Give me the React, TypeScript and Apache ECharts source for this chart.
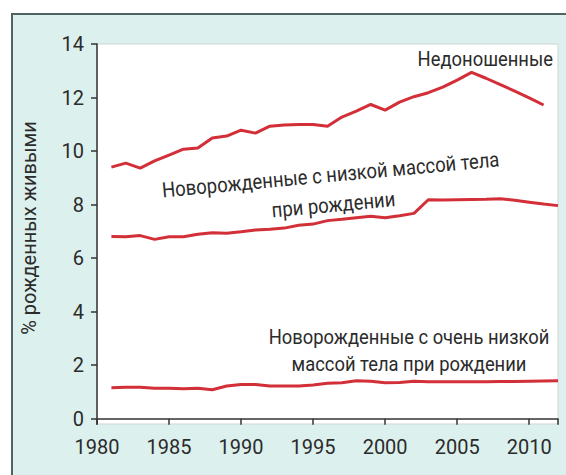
import React, { useEffect, useRef } from "react";
import * as echarts from "echarts";

const pretermYears = [1981,1982,1983,1984,1985,1986,1987,1988,1989,1990,1991,1992,1993,1994,1995,1996,1997,1998,1999,2000,2001,2002,2003,2004,2005,2006,2007,2008,2009,2010,2011];
const pretermValues = [9.40,9.55,9.36,9.63,9.85,10.07,10.11,10.49,10.56,10.78,10.67,10.93,10.97,10.99,10.99,10.93,11.27,11.49,11.74,11.53,11.83,12.03,12.18,12.39,12.65,12.94,12.72,12.48,12.24,11.99,11.72];

const lbwYears = [1981,1982,1983,1984,1985,1986,1987,1988,1989,1990,1991,1992,1993,1994,1995,1996,1997,1998,1999,2000,2001,2002,2003,2004,2005,2006,2007,2008,2009,2010,2011,2012];
const lbwValues = [6.81,6.80,6.84,6.70,6.80,6.80,6.89,6.95,6.93,6.98,7.05,7.08,7.12,7.23,7.27,7.40,7.45,7.51,7.56,7.51,7.58,7.67,8.18,8.17,8.18,8.19,8.20,8.22,8.16,8.09,8.02,7.96];

const vlbwYears = [1981,1982,1983,1984,1985,1986,1987,1988,1989,1990,1991,1992,1993,1994,1995,1996,1997,1998,1999,2000,2001,2002,2003,2004,2005,2006,2007,2008,2009,2010,2011,2012];
const vlbwValues = [1.15,1.17,1.17,1.14,1.14,1.12,1.14,1.08,1.22,1.28,1.28,1.22,1.22,1.22,1.26,1.32,1.34,1.42,1.40,1.34,1.35,1.40,1.38,1.38,1.38,1.38,1.38,1.39,1.39,1.40,1.41,1.42];

const xTicks = [1980, 1985, 1990, 1995, 2000, 2005, 2010];
const yTicks = [0, 2, 4, 6, 8, 10, 12, 14];

const labelPreterm = "Недоношенные";
const labelLbw = "Новорожденные с низкой массой тела\nпри рождении";
const labelVlbw = "Новорожденные с очень низкой\nмассой тела при рождении";
const yAxisName = "% рожденных живыми";

const FONT = "Roboto, 'Liberation Sans', sans-serif";
const TEXT = "#2b2b2b";
const RED = "#d22f38";

const pairs = (xs: number[], ys: number[]) => xs.map((x, i) => [x, ys[i]]);

export default function App() {
  const ref = useRef<HTMLDivElement>(null);
  useEffect(() => {
    if (!ref.current) return;
    const chart = echarts.init(ref.current, undefined, { renderer: "svg" });
    const lineSeries = (name: string, data: number[][]) => ({
      name,
      type: "line",
      data,
      symbol: "none",
      lineStyle: { color: RED, width: 3 },
      itemStyle: { color: RED },
    });
    chart.setOption({
      animation: false,
      grid: {
        left: 97,
        right: 8,
        top: 44,
        bottom: 51,
        show: true,
        backgroundColor: "#ffffff",
        borderColor: "#cdd5d5",
        borderWidth: 1,
      },
      xAxis: {
        type: "value",
        min: 1980,
        max: 2012,
        interval: 5,
        axisLine: { show: true, lineStyle: { color: "#333", width: 1.5 } },
        axisTick: { show: true, length: 6, lineStyle: { color: "#333", width: 1.5 }, customValues: [...xTicks, 2012] },
        axisLabel: { customValues: xTicks, formatter: (v: number) => String(v), color: TEXT, fontFamily: FONT, fontSize: 20, margin: 13 },
        splitLine: { show: false },
      },
      yAxis: {
        type: "value",
        min: -0.2,
        max: 14,
        axisLine: { show: true, lineStyle: { color: "#333", width: 1.5 } },
        axisTick: { show: true, length: 6, lineStyle: { color: "#333", width: 1.5 }, customValues: yTicks },
        axisLabel: { customValues: yTicks, color: TEXT, fontFamily: FONT, fontSize: 20, margin: 13 },
        splitLine: { show: false },
        name: yAxisName,
        nameLocation: "middle",
        nameGap: 58,
        nameRotate: 90,
        nameTextStyle: { color: TEXT, fontFamily: FONT, fontSize: 20, padding: [0, 0, 0, 12] },
      },
      series: [
        lineSeries("preterm", pairs(pretermYears, pretermValues)),
        lineSeries("lbw", pairs(lbwYears, lbwValues)),
        lineSeries("vlbw", pairs(vlbwYears, vlbwValues)),
      ],
      graphic: [
        {
          type: "text",
          x: 553,
          y: 59,
          scaleX: 0.92,
          style: { text: labelPreterm, fill: TEXT, font: `20px ${FONT}`, align: "right", verticalAlign: "middle" },
        },
        {
          type: "text",
          x: 332,
          y: 190,
          rotation: 0.092,
          scaleX: 0.88,
          style: { text: labelLbw, fill: TEXT, font: `21px ${FONT}`, align: "center", verticalAlign: "middle", lineHeight: 30 },
        },
        {
          type: "text",
          x: 409,
          y: 351,
          scaleX: 0.875,
          style: { text: labelVlbw, fill: TEXT, font: `21px ${FONT}`, align: "center", verticalAlign: "middle", lineHeight: 27 },
        },
      ],
    });
    return () => chart.dispose();
  }, []);
  return (
    <div style={{ position: "absolute", left: 0, top: 0, width: 566, height: 475, background: "#ffffff", overflow: "hidden" }}>
      <div
        style={{
          position: "absolute",
          left: 11,
          top: 13,
          width: 570,
          height: 480,
          background: "#dcf0ed",
          borderLeft: "2px solid #4f6363",
          borderTop: "2px solid #4f6363",
        }}
      />
      <div ref={ref} style={{ position: "absolute", left: 0, top: 0, width: 566, height: 475 }} />
    </div>
  );
}
